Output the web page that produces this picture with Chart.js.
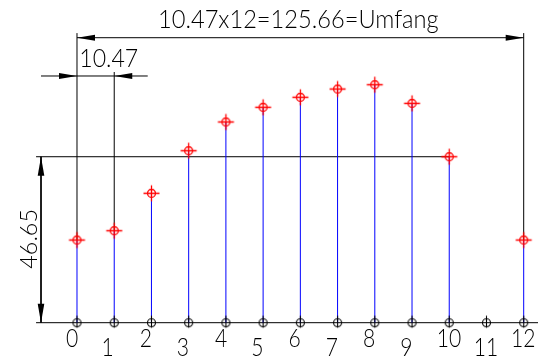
<!DOCTYPE html>
<html>
<head>
<meta charset="utf-8">
<title>Abwicklung</title>
<script src="https://cdn.jsdelivr.net/npm/chart.js@4.4.0/dist/chart.umd.min.js"></script>
<style>
  html, body { margin: 0; padding: 0; background: #fff; }
  #wrap { width: 538px; height: 359px; }
</style>
</head>
<body>
<div id="wrap"><canvas id="chart" width="538" height="359"></canvas></div>
<script>
// Development of the cut (mm)
const stations = [0, 1, 2, 3, 4, 5, 6, 7, 8, 9, 10, 11, 12];
const tickLabels = ['0', '1', '2', '3', '4', '5', '6', '7', '8', '9', '10', '11', '12'];
const heights = [23.24, 25.86, 36.37, 48.34, 56.41, 60.54, 63.35, 65.68, 66.89, 61.66, 46.65, null, 23.24];

// Dimension values
const pitch = 10.47;
const divisions = 12;
const circumference = 125.66;
const refHeight = 46.65;

(function() {
    'use strict';

    // Levels of the dimension lines, in drawing units
    const dimTopY = 80.1;
    const extTopY = 81.4;
    const dimPitchY = 69.34;
    const extPitchY = 70.46;
    const dimVertX = -0.967;
    const lineStartX = -1.10;
    const xMin = -2.0685, xMax = 12.3842;
    const yMin = -10.202, yMax = 90.697;

    const FONT = 'Lato, "DejaVu Sans", sans-serif';

    // Small canvas used as point style
    function makeMarker(color, r, armX, armUp, armDown, width) {
        const size = 21;
        const c = document.createElement('canvas');
        c.width = size;
        c.height = size;
        const g = c.getContext('2d');
        const m = size / 2;
        g.strokeStyle = color;
        g.lineWidth = width;
        g.beginPath();
        g.arc(m, m, r, 0, Math.PI * 2);
        if (armX) {
            g.moveTo(m - armX, m);
            g.lineTo(m + armX, m);
        }
        g.moveTo(m, m - armUp);
        g.lineTo(m, m + armDown);
        g.stroke();
        return c;
    }

    const redMarker = makeMarker('#ff0000', 4, 8, 8, 8, 1.3);
    const baseMarker = makeMarker('#000000', 4, 0, 7, 5, 1.1);

    // Stems: one segment per station, broken by null
    const stemPoints = [];
    const topPoints = [];
    stations.forEach((s, i) => {
        if (heights[i] === null) return;
        stemPoints.push({ x: s, y: 0 }, { x: s, y: heights[i] }, { x: s, y: null });
        topPoints.push({ x: s, y: heights[i] });
    });
    const basePoints = stations.map(s => ({ x: s, y: 0 }));

    const last = stations.length - 1;
    const extPoints = [
        { x: stations[0], y: heights[0] }, { x: stations[0], y: extTopY }, { x: 0, y: null },
        { x: stations[1], y: heights[1] }, { x: stations[1], y: extPitchY }, { x: 0, y: null },
        { x: stations[last], y: heights[last] }, { x: stations[last], y: extTopY }
    ];

    function lineSet(data, color, order) {
        return {
            data: data,
            showLine: true,
            borderColor: color,
            borderWidth: 1,
            pointRadius: 0,
            spanGaps: false,
            order: order
        };
    }

    // Place text by its ink box: left edge, baseline, height, optional width
    function drawText(ctx, text, left, base, h, w, hScale) {
        const size = h / 0.72;
        ctx.save();
        ctx.font = '300 ' + size + 'px ' + FONT;
        ctx.textAlign = 'left';
        ctx.textBaseline = 'alphabetic';
        const m = ctx.measureText(text);
        const inkW = m.actualBoundingBoxLeft + m.actualBoundingBoxRight;
        const s = w ? w / inkW : hScale;
        ctx.translate(left, base);
        ctx.scale(s, 1);
        ctx.fillStyle = '#000';
        ctx.fillText(text, m.actualBoundingBoxLeft, 0);
        ctx.restore();
    }

    function arrow(ctx, x, y, dx, dy, len, half) {
        // tip at (x, y), pointing along (dx, dy)
        const bx = x - dx * len, by = y - dy * len;
        ctx.beginPath();
        ctx.moveTo(x, y);
        ctx.lineTo(bx - dy * half, by + dx * half);
        ctx.lineTo(bx + dy * half, by - dx * half);
        ctx.closePath();
        ctx.fill();
    }

    const dimensionPlugin = {
        id: 'dimensions',
        afterDatasetsDraw(chart) {
            const ctx = chart.ctx;
            const xs = chart.scales.x;
            const ys = chart.scales.y;
            const px = v => xs.getPixelForValue(v);
            const py = v => ys.getPixelForValue(v);

            ctx.save();
            ctx.fillStyle = '#000';

            // overall length
            const x0 = px(stations[0]);
            const x12 = px(stations[last]);
            const yTop = py(dimTopY);
            arrow(ctx, x0, yTop, -1, 0, 18, 3);
            arrow(ctx, x12, yTop, 1, 0, 18, 3);

            // pitch
            const x1 = px(stations[1]);
            const yPitch = py(dimPitchY);
            arrow(ctx, x0, yPitch, 1, 0, 18, 3);
            arrow(ctx, x1, yPitch, -1, 0, 18, 3);

            // height
            const xv = px(dimVertX);
            const yRef = py(refHeight);
            const yBase = py(0);
            arrow(ctx, xv, yRef, 0, -1, 19, 3.3);
            arrow(ctx, xv, yBase, 0, 1, 19, 3.3);

            // texts
            const title = pitch + 'x' + divisions + '=' + circumference + '=Umfang';
            const titleW = 279;
            drawText(ctx, title, (x0 + x12) / 2 - titleW / 2 - 1, yTop - 10, 18, titleW);
            drawText(ctx, String(pitch), x0 + 4, yPitch - 9, 19, 57);

            ctx.save();
            ctx.translate(xv - 4, (yRef + yBase) / 2 + 29);
            ctx.rotate(-Math.PI / 2);
            drawText(ctx, String(refHeight), 0, 0, 17, 58);
            ctx.restore();

            // station numbers, alternating heights
            stations.forEach((s, i) => {
                const base = yBase + (i % 2 === 0 ? 24 : 33.5);
                drawText(ctx, tickLabels[i], px(s) - 11, base, 19, 0, 0.8);
            });
            ctx.restore();
        }
    };

    new Chart(document.getElementById('chart').getContext('2d'), {
        type: 'scatter',
        data: {
            datasets: [
                {
                    data: topPoints,
                    pointStyle: redMarker,
                    pointRadius: 9,
                    order: 0
                },
                {
                    data: basePoints,
                    pointStyle: baseMarker,
                    pointRadius: 9,
                    order: 1
                },
                lineSet(stemPoints, '#0000ff', 2),
                lineSet(extPoints, '#000000', 3),
                lineSet([{ x: lineStartX, y: 0 }, { x: xMax, y: 0 }], '#000000', 4),
                lineSet([{ x: lineStartX, y: refHeight }, { x: stations[10], y: refHeight }], '#000000', 5),
                lineSet([{ x: stations[0], y: dimTopY }, { x: stations[last], y: dimTopY }], '#000000', 6),
                lineSet([{ x: dimVertX, y: dimPitchY }, { x: 1.9, y: dimPitchY }], '#000000', 7),
                lineSet([{ x: dimVertX, y: refHeight }, { x: dimVertX, y: 0 }], '#000000', 8)
            ]
        },
        options: {
            responsive: false,
            animation: false,
            layout: { padding: 0, autoPadding: false },
            plugins: {
                legend: { display: false },
                tooltip: { enabled: false }
            },
            scales: {
                x: { type: 'linear', display: false, min: xMin, max: xMax },
                y: { type: 'linear', display: false, min: yMin, max: yMax }
            }
        },
        plugins: [dimensionPlugin]
    });
})();
</script>
</body>
</html>
